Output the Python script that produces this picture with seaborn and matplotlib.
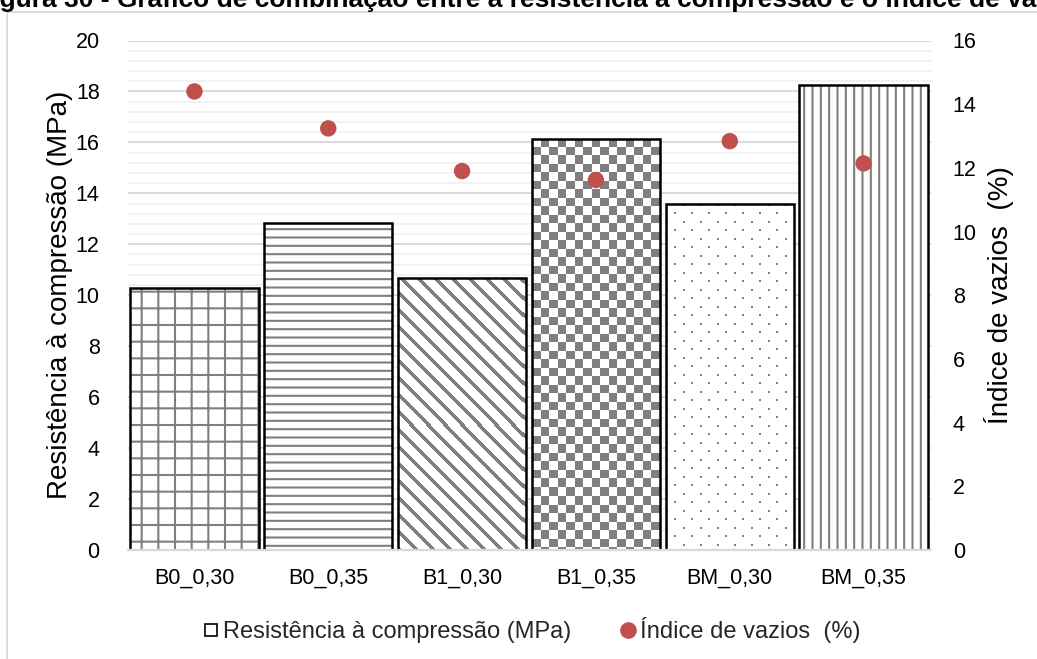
import numpy as np
import pandas as pd
import matplotlib
matplotlib.use("Agg")
import matplotlib.pyplot as plt
import seaborn as sns
from matplotlib.colors import ListedColormap
from matplotlib.lines import Line2D
from matplotlib.patches import Rectangle
from matplotlib.ticker import MultipleLocator

# ---- data ----
categorias = ["B0_0,30", "B0_0,35", "B1_0,30", "B1_0,35", "BM_0,30", "BM_0,35"]
resistencia = [10.27, 12.85, 10.68, 16.15, 13.58, 18.25]
vazios = [14.40, 13.24, 11.90, 11.62, 12.84, 12.14]
left_ticks = list(range(0, 21, 2))
right_ticks = list(range(0, 17, 2))
titulo = "Figura 30 - Gráfico de combinação entre a resistência à compressão e o índice de vazios"
ylabel_left = "Resistência à compressão (MPa)"
ylabel_right = "Índice de vazios  (%)"
leg_labels = ["Resistência à compressão (MPa)", "Índice de vazios  (%)"]

# ---- style ----
sns.set_theme(style="white")
plt.rcParams["font.family"] = ["Liberation Sans", "DejaVu Sans"]
plt.rcParams["hatch.color"] = "#7F7F7F"
plt.rcParams["hatch.linewidth"] = 1.5
GRAY = "#7F7F7F"

W, H = 1037, 659
fig = plt.figure(figsize=(W / 100, H / 100), dpi=100)
l, r = 127.5, 930.5
t, b = 40.5, 550
ax = fig.add_axes([l / W, 1 - b / H, (r - l) / W, (b - t) / H])

df = pd.DataFrame({"cat": categorias, "res": resistencia, "vaz": vazios})
sns.barplot(data=df, x="cat", y="res", ax=ax, color="white", width=0.96,
            edgecolor=GRAY, linewidth=0, saturation=1, errorbar=None)

bars = list(ax.patches)
hatches = ["+", "--", None, None, None, "||"]
for p, h in zip(bars, hatches):
    if h:
        p.set_hatch(h)

ax.set_xlim(-0.5, len(categorias) - 0.5)
ax.set_ylim(0, 20)


def texture(patch, func):
    """Fill a seaborn bar with a pixel pattern, clipped to the bar."""
    x0, y0 = patch.get_x(), patch.get_y()
    x1, y1 = x0 + patch.get_width(), y0 + patch.get_height()
    (px0, py0), (px1, py1) = ax.transData.transform([(x0, y0), (x1, y1)])
    w = int(np.ceil(px1 - px0)) + 1
    h = int(np.ceil(py1 - py0)) + 1
    sx = (x1 - x0) / (px1 - px0)
    sy = (y1 - y0) / (py1 - py0)
    jj, ii = np.meshgrid(np.arange(w), np.arange(h))
    mask = func(ii, jj).astype(int)
    im = ax.imshow(mask, origin="upper", extent=(x0, x0 + w * sx, y1 - h * sy, y1),
                   cmap=ListedColormap(["white", GRAY]), vmin=0, vmax=1,
                   interpolation="nearest", aspect="auto", zorder=1.5)
    im.set_clip_path(patch)


# diagonal stripes (B1_0,30)
texture(bars[2], lambda i, j: ((j - i) % 17) < 5)
# checkerboard (B1_0,35)
texture(bars[3], lambda i, j: ((np.floor(i / 8.5) + np.floor(j / 8.5)) % 2) == 1)
# small staggered dots (BM_0,30)
texture(bars[4], lambda i, j: (((i % 17) < 2) & ((j % 17) < 2)) |
        (((i % 17) >= 8) & ((i % 17) < 10) & ((j % 17) >= 8) & ((j % 17) < 10)))

for p in bars:
    ax.add_patch(Rectangle((p.get_x(), p.get_y()), p.get_width(), p.get_height(),
                           fill=False, ec="black", lw=1.8, zorder=3))

ax.set_xlim(-0.5, len(categorias) - 0.5)
ax.set_ylim(0, 20)
ax.set_yticks(left_ticks)
ax.yaxis.set_minor_locator(MultipleLocator(0.4))
ax.set_axisbelow(True)
ax.grid(which="major", axis="y", color="#D9D9D9", lw=1.4)
ax.grid(which="minor", axis="y", color="#F0F0F0", lw=1.2)
ax.grid(which="major", axis="x", visible=False)
ax.tick_params(which="both", length=0)
ax.tick_params(axis="y", labelsize=15.5, pad=20, colors="black")
ax.tick_params(axis="x", labelsize=15.5, pad=13, colors="black")
for s in ["top", "left", "right"]:
    ax.spines[s].set_visible(False)
ax.spines["bottom"].set_color("#D9D9D9")
ax.spines["bottom"].set_linewidth(1.6)
ax.spines["bottom"].set_zorder(5)
ax.set_xlabel("")
ax.set_ylabel(ylabel_left, fontsize=20, color="black")
ax.yaxis.set_label_coords((73 - l) / (r - l), 0.5)

# secondary axis
ax2 = ax.twinx()
sns.scatterplot(data=df, x="cat", y="vaz", ax=ax2, color="#C0504D", s=140,
                edgecolor="none", zorder=4)
ax2.set_ylim(0, 16)
ax2.set_yticks(right_ticks)
ax2.set_xlim(-0.5, len(categorias) - 0.5)
ax2.tick_params(which="both", length=0)
ax2.tick_params(axis="y", labelsize=15.5, pad=16, colors="black")
for s in ["top", "left", "right", "bottom"]:
    ax2.spines[s].set_visible(False)
ax2.grid(False)
ax2.set_xlabel("")
ax2.set_ylabel(ylabel_right, fontsize=20, color="black")
ax2.yaxis.set_label_coords((984 - l) / (r - l), 0.5)

# legend
handles = [
    Line2D([], [], marker="s", linestyle="none", mfc="white", mec="black", mew=1.2, markersize=9),
    Line2D([], [], marker="o", linestyle="none", mfc="#C0504D", mec="none", markersize=12),
]
fig.legend(handles, leg_labels, loc="center", bbox_to_anchor=(531 / W, 1 - 630 / H),
           ncol=2, frameon=False, fontsize=17, handletextpad=0.1, columnspacing=2.0,
           handlelength=0.8)

# chart frame and (cropped) title
fig.add_artist(Rectangle((7 / W, -0.05), 1.2, (H - 12) / H + 0.05, transform=fig.transFigure,
                         fill=False, ec="#D9D9D9", lw=1.3))
fig.text(-24 / W, 1 - 7 / H, titulo, ha="left", va="baseline", fontsize=19,
         fontweight="bold", color="black")

fig.savefig("out.png", dpi=100)
